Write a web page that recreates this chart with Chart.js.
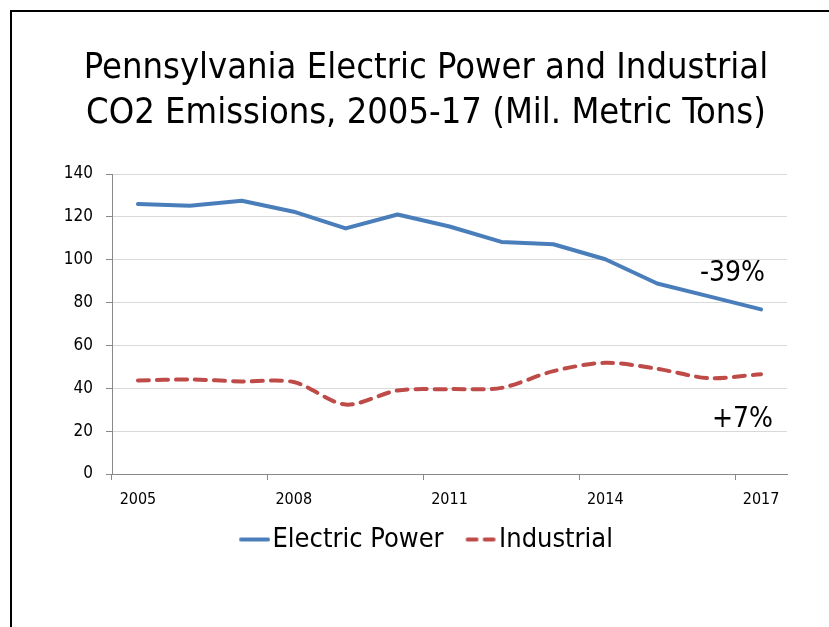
<!DOCTYPE html>
<html>
<head>
<meta charset="utf-8">
<script src="https://cdn.jsdelivr.net/npm/chart.js@4.4.0/dist/chart.umd.min.js"></script>
<style>
  html, body { margin: 0; padding: 0; background: #fff; }
  canvas { display: block; }
</style>
</head>
<body>
<canvas id="co2Chart" width="829" height="627"></canvas>
<script>
// Categories and values
const years = ["2005", "2006", "2007", "2008", "2009", "2010", "2011", "2012", "2013", "2014", "2015", "2016", "2017"];
const electricPower = [126.0, 125.2, 127.5, 122.4, 114.6, 121.1, 115.5, 108.3, 107.2, 100.2, 88.9, 82.9, 76.8];
const industrial = [43.6, 44.1, 43.2, 42.9, 32.4, 39.0, 39.6, 40.2, 48.0, 51.9, 49.1, 44.7, 46.6];
const yTicks = [0, 20, 40, 60, 80, 100, 120, 140];

// Change labels, placed at (category index, value)
const notes = [
    { text: "-39%", at: 12, value: 93.5, dx: 4 },
    { text: "+7%", at: 12, value: 25.5, dx: 12 }
];

const FONT = "'DejaVu Sans Condensed', 'DejaVu Sans', sans-serif";

// Legend sample: a short line drawn into a small canvas, shifted right so it
// sits close to the label text
function legendSample(color, dash) {
    const cv = document.createElement("canvas");
    cv.width = 42;
    cv.height = 8;
    const c = cv.getContext("2d");
    c.strokeStyle = color;
    c.lineWidth = 4;
    c.lineCap = "round";
    c.setLineDash(dash);
    c.beginPath();
    c.moveTo(13, 4);
    c.lineTo(40, 4);
    c.stroke();
    return cv;
}

// Slide frame and the percentage notes
const extras = {
    id: "extras",
    beforeDraw(chart) {
        const c = chart.ctx;
        c.save();
        c.fillStyle = "#fff";
        c.fillRect(0, 0, chart.width, chart.height);
        c.strokeStyle = "#000";
        c.lineWidth = 2;
        c.strokeRect(11, 11, chart.width + 20, chart.height + 20);
        c.restore();
    },
    afterDatasetsDraw(chart) {
        const c = chart.ctx;
        const xs = chart.scales.x;
        const ys = chart.scales.y;
        c.save();
        c.font = "28px " + FONT;
        c.fillStyle = "#000";
        c.textAlign = "right";
        c.textBaseline = "middle";
        notes.forEach(n => {
            c.fillText(n.text, xs.getPixelForValue(n.at) + n.dx, ys.getPixelForValue(n.value));
        });
        c.restore();
    }
};

new Chart(document.getElementById("co2Chart"), {
    type: "line",
    data: {
        labels: years,
        datasets: [
            {
                label: "Electric Power",
                data: electricPower,
                borderColor: "#4a7ebb",
                backgroundColor: "#4a7ebb",
                borderWidth: 4,
                borderCapStyle: "round",
                borderJoinStyle: "round",
                pointRadius: 0,
                pointStyle: legendSample("#4a7ebb", []),
                tension: 0
            },
            {
                label: "Industrial",
                data: industrial,
                borderColor: "#be4b48",
                backgroundColor: "#be4b48",
                borderWidth: 4,
                borderDash: [11, 8],
                borderCapStyle: "round",
                pointRadius: 0,
                pointStyle: legendSample("#be4b48", [9, 8]),
                tension: 0.3
            }
        ]
    },
    options: {
        responsive: false,
        animation: false,
        layout: { padding: { top: 0, left: 65, right: 42, bottom: 64 } },
        plugins: {
            title: {
                display: true,
                text: ["Pennsylvania Electric Power and Industrial", "CO2 Emissions, 2005-17 (Mil. Metric Tons)"],
                color: "#000",
                font: { family: FONT, size: 36, weight: "normal", lineHeight: 1.25 },
                padding: { top: 46, bottom: 38 }
            },
            legend: {
                position: "bottom",
                labels: {
                    usePointStyle: true,
                    pointStyleWidth: 20,
                    boxHeight: 8,
                    padding: 22,
                    color: "#000",
                    font: { family: FONT, size: 27 }
                }
            },
            tooltip: { enabled: false }
        },
        scales: {
            x: {
                offset: true,
                afterFit: (scale) => { scale.height = 30; },
                grid: {
                    offset: true,
                    drawOnChartArea: false,
                    tickLength: 6,
                    color: (ctx) => ctx.index % 3 === 0 && ctx.index < years.length ? "#888" : "rgba(0,0,0,0)"
                },
                border: { color: "#888", width: 1 },
                ticks: {
                    autoSkip: false,
                    maxRotation: 0,
                    padding: 10,
                    color: "#000",
                    font: { family: FONT, size: 16 },
                    callback: (v, i) => i % 3 === 0 ? years[i] : ""
                }
            },
            y: {
                min: yTicks[0],
                max: yTicks[yTicks.length - 1],
                afterFit: (scale) => { scale.width = 47; },
                afterBuildTicks: (scale) => { scale.ticks = yTicks.map(v => ({ value: v })); },
                grid: { color: "#d9d9d9", tickColor: "#888", tickLength: 6 },
                border: { color: "#888", width: 1 },
                ticks: {
                    padding: 13,
                    color: "#000",
                    font: { family: FONT, size: 17 }
                }
            }
        }
    },
    plugins: [extras]
});
</script>
</body>
</html>
